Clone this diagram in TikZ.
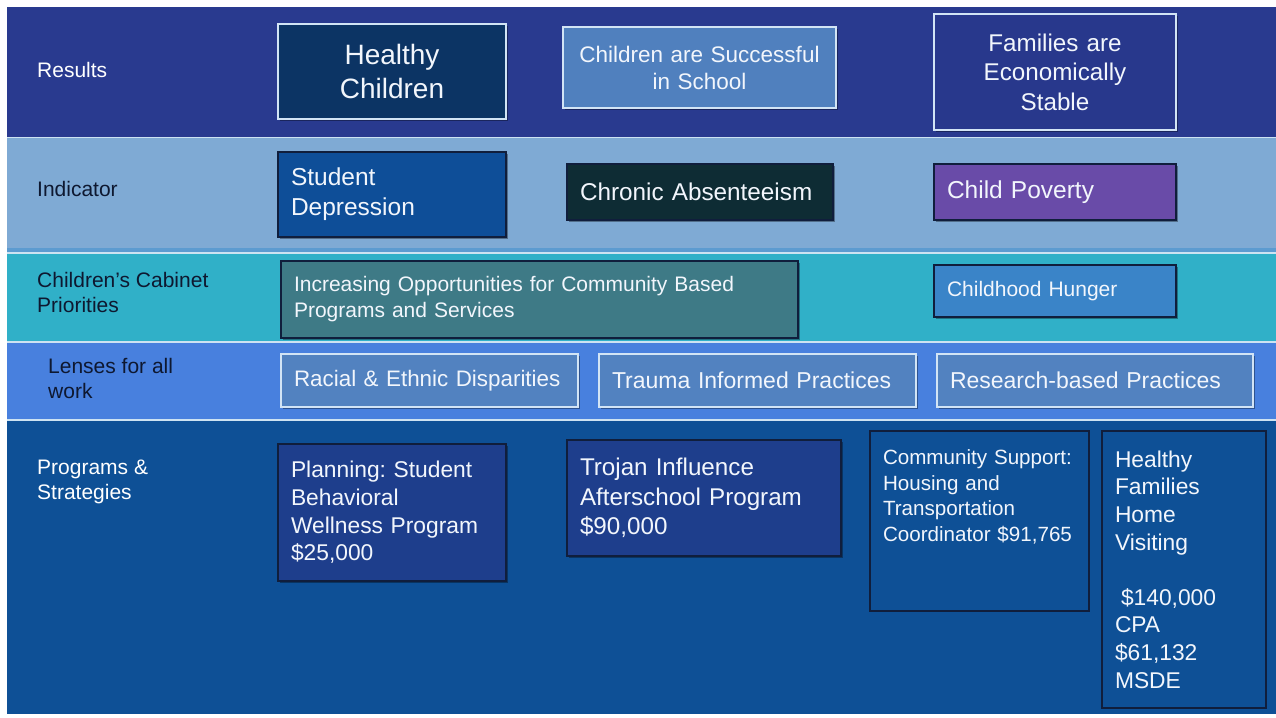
\documentclass[tikz,border=0pt]{standalone}
\usepackage{fontspec}
\setmainfont{Liberation Sans}
\usetikzlibrary{shadows}
% band colours
\definecolor{bandres}{RGB}{41,58,143}
\definecolor{bandind}{RGB}{127,170,212}
\definecolor{bandstrip}{RGB}{92,155,208}
\definecolor{bandcab}{RGB}{48,176,200}
\definecolor{bandlen}{RGB}{72,128,222}
\definecolor{bandprog}{RGB}{14,80,150}
\definecolor{sepline}{RGB}{205,227,242}
% box colours
\definecolor{hcfill}{RGB}{12,52,100}
\definecolor{csfill}{RGB}{80,128,190}
\definecolor{fefill}{RGB}{40,56,140}
\definecolor{sdfill}{RGB}{14,78,152}
\definecolor{cafill}{RGB}{14,44,52}
\definecolor{cpfill}{RGB}{105,75,168}
\definecolor{iofill}{RGB}{62,122,134}
\definecolor{chfill}{RGB}{58,132,200}
\definecolor{lenfill}{RGB}{82,130,192}
\definecolor{progfill}{RGB}{30,62,140}
\definecolor{darkedge}{RGB}{16,30,60}
\definecolor{lightedge}{RGB}{210,228,245}
\definecolor{labdark}{RGB}{14,24,48}
\definecolor{boxtext}{RGB}{242,246,252}

\tikzset{
  box/.style={draw,rectangle,inner xsep=13pt,inner ysep=0pt,line width=1.2pt,text=boxtext,
    execute at begin node={\frenchspacing\hyphenpenalty=10000\exhyphenpenalty=10000}},
  shad/.style={drop shadow={shadow xshift=1.5pt,shadow yshift=-2pt,opacity=0.35,fill=black}},
  lite/.style={box,draw=lightedge,align=center},
  dark/.style={box,draw=darkedge,align=left},
  lens/.style={box,draw=lightedge,fill=lenfill,align=left,shad,font=\fontsize{23}{27}\selectfont,minimum height=53pt},
  prog/.style={box,draw=darkedge,align=left},
  lab/.style={anchor=west,inner sep=0pt,align=left,font=\fontsize{21}{25}\selectfont}
}

\begin{document}
\begin{tikzpicture}[x=1pt,y=-1pt]
\useasboundingbox (0,0) rectangle (1276,717);
\fill[white] (0,0) rectangle (1276,717);

% bands
\fill[bandres] (7,7) rectangle (1276,137);
\fill[bandind] (7,137) rectangle (1276,248);
\fill[bandstrip] (7,248) rectangle (1276,253);
\fill[bandcab] (7,253) rectangle (1276,342);
\fill[bandlen] (7,342) rectangle (1276,420);
\fill[bandprog] (7,420) rectangle (1276,714);
\draw[sepline,line width=1.3pt] (7,137.5) -- (1276,137.5);
\draw[sepline,line width=1.3pt] (7,253) -- (1276,253);
\draw[sepline,line width=1.3pt] (7,342) -- (1276,342);
\draw[sepline,line width=1.3pt] (7,420) -- (1276,420);

% row labels
\node[lab,text=white,name=lres] at (37,70) {Results};
\node[lab,text=labdark,name=lind] at (37,189) {Indicator};
\node[lab,text=labdark,name=lcab] at (37,292.5) {Children’s Cabinet\\Priorities};
\node[lab,text=labdark,name=llen] at (48,378) {Lenses for all\\work};
\node[lab,text=white,name=lprog] at (37,481.5) {Programs \&\\Strategies};

% results
\node[lite,shad,fill=hcfill,name=hc,text width=202pt,minimum height=95pt,
  font=\fontsize{28}{34}\selectfont] at (392,71.5) {Healthy\\Children};
\node[lite,shad,fill=csfill,name=cs,text width=247pt,minimum height=81pt,
  font=\fontsize{22.5}{27}\selectfont] at (699.5,67.5) {Children are Successful\\in School};
\node[lite,shad,fill=fefill,name=fe,text width=216pt,minimum height=116pt,
  font=\fontsize{24.2}{29.5}\selectfont] at (1055,72) {Families are\\Economically\\Stable};

% indicators
\node[dark,shad,fill=sdfill,name=sd,text width=202pt,minimum height=85pt,
  font=\fontsize{24.5}{30}\selectfont] at (392,194.5) {Student\\Depression};
\node[dark,shad,fill=cafill,name=ca,text width=240pt,minimum height=56pt,
  font=\fontsize{24.3}{30}\selectfont] at (700,192) {\mbox{Chronic Absenteeism}};
\node[dark,shad,fill=cpfill,name=cp,text width=216pt,minimum height=56pt,
  font=\fontsize{24.5}{30}\selectfont] at (1055,192) {Child Poverty};

% priorities
\node[dark,shad,fill=iofill,name=io,text width=491pt,minimum height=77pt,
  font=\fontsize{21}{26}\selectfont] at (539.5,299.5)
  {Increasing Opportunities for Community Based\\Programs and Services};
\node[dark,shad,fill=chfill,name=ch,text width=216pt,minimum height=52pt,
  font=\fontsize{21}{26}\selectfont] at (1055,291) {Childhood Hunger};

% lenses
\node[lens,name=re,text width=271pt,font=\fontsize{22.4}{27}\selectfont] at (429.5,380.5)
  {\mbox{Racial \& Ethnic Disparities}};
\node[lens,name=ti,text width=291pt] at (757.5,380.5) {\mbox{Trauma Informed Practices}};
\node[lens,name=rb,text width=290pt] at (1095,380.5) {\mbox{Research-based Practices}};

% programs
\node[prog,shad,fill=progfill,name=pl,text width=202pt,minimum height=137pt,
  font=\fontsize{22.8}{27.7}\selectfont] at (392,512.5)
  {Planning: Student\\Behavioral\\Wellness Program\\\$25,000};
\node[prog,shad,fill=progfill,name=tr,text width=248pt,minimum height=116pt,
  font=\fontsize{24.2}{29.5}\selectfont] at (704,498)
  {Trojan Influence\\Afterschool Program\\\$90,000};
\node[prog,fill=bandprog,name=cm,text width=193pt,minimum height=180pt,
  font=\fontsize{20.6}{25.5}\selectfont] at (979.5,521)
  {Community Support:\\Housing and\\Transportation\\\mbox{Coordinator \$91,765}\\~\\~};
\node[prog,fill=bandprog,name=hf,text width=138pt,minimum height=277pt,
  font=\fontsize{22.8}{27.6}\selectfont] at (1184,569.5)
  {Healthy\\Families\\Home\\Visiting\\~\\\hspace*{6pt}\$140,000\\CPA\\\$61,132\\MSDE};
\end{tikzpicture}
\end{document}
